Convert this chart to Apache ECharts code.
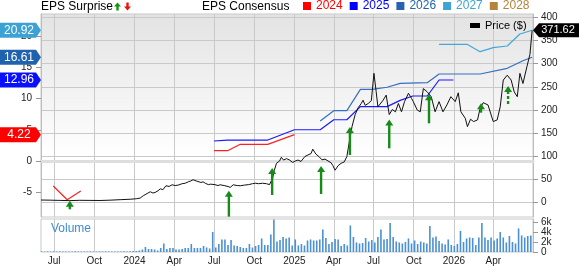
<!DOCTYPE html>
<html><head><meta charset="utf-8">
<script src="https://cdn.jsdelivr.net/npm/echarts@6/dist/echarts.min.js"></script>
<style>html,body{margin:0;padding:0;background:#fff}#c{width:579px;height:266px}</style>
</head><body><div id="c"></div>
<script>
// ---------- DATA ----------
const tickDates = ['2023-07-01','2023-10-01','2024-01-01','2024-04-01','2024-07-01','2024-10-01','2025-01-01','2025-04-01','2025-07-01','2025-10-01','2026-01-01','2026-04-01','2026-07-01'];
const tickLabels = ['Jul','Oct','2024','Apr','Jul','Oct','2025','Apr','Jul','Oct','2026','Apr',''];
const priceTicks = [0,50,100,150,200,250,300,350,400];
const epsTicks = [-5,0,5,10,15,20];
const volTicks = [0,2,4,6];
const volTickLabels = ['0','2k','4k','6k'];

const priceDates = ['2023-06-01','2023-06-22','2023-07-14','2023-08-06','2023-08-29','2023-09-21','2023-10-14','2023-11-06','2023-11-29','2023-12-22','2024-01-05','2024-01-14','2024-01-21','2024-01-25','2024-02-01','2024-02-06','2024-02-12','2024-02-17','2024-02-24','2024-02-29','2024-03-06','2024-03-13','2024-03-20','2024-03-27','2024-04-03','2024-04-10','2024-04-19','2024-04-26','2024-05-03','2024-05-09','2024-05-14','2024-05-21','2024-05-25','2024-06-01','2024-06-06','2024-06-11','2024-06-18','2024-06-23','2024-06-27','2024-07-03','2024-07-10','2024-07-15','2024-07-24','2024-08-02','2024-08-07','2024-08-14','2024-08-23','2024-08-30','2024-09-09','2024-09-18','2024-09-27','2024-10-04','2024-10-11','2024-10-20','2024-10-29','2024-11-05','2024-11-12','2024-11-16','2024-11-21','2024-11-28','2024-12-02','2024-12-07','2024-12-14','2024-12-21','2024-12-28','2025-01-03','2025-01-09','2025-01-16','2025-01-25','2025-02-01','2025-02-08','2025-02-12','2025-02-19','2025-02-26','2025-03-05','2025-03-12','2025-03-19','2025-03-26','2025-03-30','2025-04-04','2025-04-11','2025-04-18','2025-04-25','2025-05-01','2025-05-06','2025-05-13','2025-05-20','2025-05-27','2025-06-03','2025-06-07','2025-06-12','2025-06-19','2025-06-26','2025-07-02','2025-07-07','2025-07-11','2025-07-18','2025-07-23','2025-07-30','2025-08-06','2025-08-13','2025-08-20','2025-08-27','2025-09-03','2025-09-10','2025-09-19','2025-09-26','2025-09-30','2025-10-09','2025-10-16','2025-10-23','2025-11-01','2025-11-10','2025-11-19','2025-11-28','2025-12-07','2025-12-16','2025-12-25','2026-01-04','2026-01-11','2026-01-17','2026-01-27','2026-02-01','2026-02-08','2026-02-15','2026-02-24','2026-03-02','2026-03-09','2026-03-20','2026-04-01','2026-04-10','2026-04-17','2026-04-24','2026-05-03','2026-05-12','2026-05-19','2026-05-26','2026-06-01','2026-06-08','2026-06-17','2026-06-24','2026-06-29'];
const priceValues = [5.8,5.5,5.0,4.5,5.2,5.0,4.8,5.5,6.5,7.5,8.5,10,15,19,21,23.6,21,22,26,30,28,36.6,35,38.7,37,38,41,42,45,47,49.5,47,49,43.7,45,42,39,40,36.6,39,37,38.7,37,35,33,38.7,37,36.6,38,39,41,42,41,42,41,39,53,70,85,90,98,92,95,92,86.7,90,92,89,99.6,103,106,115.5,105,99.6,92.5,94,90,86,80,70,80,85,88,99.6,128,165,190,205,214,221,210,214,220,279,240,207,215,221,232,190,201,196,214,196,218,236,225,218,200,196,246,239,228.6,196,218,196,210.8,228.6,218,237,196,182,164,180,175,178.5,203.6,215.7,210.8,175,178.5,207,264.5,275,264.5,239,228.6,279,257,293,320,371.62];

const eps2024Dates = ['2023-06-29','2023-07-31','2023-08-31',null,'2024-07-01','2024-08-01','2024-08-30','2024-11-01','2025-01-01'];
const eps2024Values = [-4.0,-6.2,-4.8,null,1.65,1.65,2.67,2.67,4.22];
const eps2025Dates = ['2024-07-01','2024-08-01','2024-11-01','2025-01-01','2025-03-01','2025-04-01','2025-05-01','2025-06-01','2025-08-01','2025-08-31','2025-09-29','2025-11-01','2025-11-28','2025-12-31'];
const eps2025Values = [3.2,3.35,3.35,5.0,5.0,6.6,6.6,8.7,8.7,9.7,10.4,10.4,12.96,12.96];
const eps2026Dates = ['2025-03-01','2025-04-01','2025-05-01','2025-06-01','2025-06-28','2025-08-01','2025-08-31','2025-11-01','2025-11-28','2026-03-02','2026-05-03','2026-06-08','2026-06-29'];
const eps2026Values = [6.4,8.05,8.05,11.47,11.47,11.8,12.43,12.53,13.92,13.92,14.83,16.05,16.61];
const eps2027Dates = ['2025-11-28','2026-01-31','2026-03-02','2026-04-01','2026-05-03','2026-06-01','2026-06-29'];
const eps2027Values = [18.67,18.67,17.49,18.13,18.4,20.32,20.92];
const eps2028Dates = [];
const eps2028Values = [];

// EPS surprise arrows: date, tip price, tail price, dashed(1)
const surpriseDates = ['2023-08-06','2024-08-04','2024-11-11','2025-03-03','2025-05-08','2025-08-06','2025-11-05','2026-03-04','2026-05-05'];
const surpriseTips = [4.3,25.9,74.8,79.1,163.2,179.4,233.7,214.3,251.6];
const surpriseTails = [-14.2,-30,16.6,18.8,102.8,117.3,171.2,194.1,212.2];
const surpriseDashed = [0,0,0,0,0,0,0,0,1];

const volumeStart = '2023-06-02';
const volumeValues = [0.12,0.1,0.12,0.1,0.13,0.1,0.12,0.1,0.1,0.12,0.1,0.13,0.1,0.12,0.1,0.1,0.12,0.1,0.1,0.12,0.1,0.12,0.1,0.1,0.12,0.1,0.12,0.15,0.12,0.15,0.2,0.2,
0.3,0.5,1.0,0.6,0.6,0.5,0.3,0.8,1.7,0.6,0.8,0.8,0.5,0.5,0.6,0.8,0.8,1.6,0.8,0.8,0.8,1.2,0.9,0.7,4.0,0.9,1.6,2.5,2.5,1.4,2.4,1.3,1.2,1.0,0.8,0.8,1.6,0.9,1.2,1.4,2.7,1.4,1.4,3.5,6.5,2.1,2.4,3.0,2.7,2.9,1.3,2.5,1.3,1.6,1.3,2.3,2.5,2.3,2.3,2.5,4.5,2.8,1.6,2.0,2.6,2.5,1.2,1.6,1.3,5.3,3.0,1.9,1.7,1.8,2.8,2.1,2.4,1.9,3.0,4.5,2.5,2.6,5.8,3.0,2.1,1.9,1.7,2.0,2.7,1.7,2.3,1.6,2.1,1.9,1.7,5.2,2.9,3.1,2.2,1.7,1.5,2.5,1.4,1.2,1.6,4.2,2.0,2.7,2.9,2.8,1.4,2.9,5.8,2.9,2.4,2.9,2.3,2.7,4.0,2.9,1.9,3.2,2.0,1.7,4.7,3.3,2.9,3.2,3.3];

const epsTagValues = [20.92,16.61,12.96,4.22];
const epsTagColors = ['#3aa2d4','#1f62ad','#0a10ff','#ff0000'];
const lastPrice = 371.62;

// ---------- BUILD ----------
const FONT = '"Liberation Sans", Arial, sans-serif';
function ts(s){const p=s.split('-');return new Date(+p[0],+p[1]-1,+p[2]).getTime();}
function pairs(ds,vs){return ds.map((d,i)=>d===null?[null,null]:[ts(d),vs[i]]);}
const tickTs = tickDates.map(ts);
const volumeData = volumeValues.map((v,i)=>{const d=new Date(ts(volumeStart));d.setDate(d.getDate()+7*i);return [d.getTime(),v];});
const surpriseData = surpriseDates.map((d,i)=>[ts(d),surpriseTips[i],surpriseTails[i],surpriseDashed[i]]);

const GRID_LINE = '#c9c9c9';
const xMin = ts('2023-06-01'), xMax = ts('2026-07-01');

const chart = echarts.init(document.getElementById('c'), null, {renderer:'canvas'});
const option = {
  animation:false,
  textStyle:{fontFamily:FONT},
  grid:[
    {left:41,right:46,top:14,height:203,show:true,borderColor:GRID_LINE,borderWidth:1,
      backgroundColor:new echarts.graphic.LinearGradient(0,0,0,1,[{offset:0,color:'#e3e3e3'},{offset:0.7,color:'#ffffff'},{offset:1,color:'#ffffff'}])},
    {left:41,right:46,top:219,height:34,show:true,borderColor:GRID_LINE,borderWidth:1,backgroundColor:'#fff'}
  ],
  legend:[
    {data:[{name:'2024',textStyle:{color:'#ff0000'}},{name:'2025',textStyle:{color:'#0000ff'}},{name:'2026',textStyle:{color:'#2563b0'}},{name:'2027',textStyle:{color:'#3ea4d6'}},{name:'2028',textStyle:{color:'#b5843c'}}],
     left:303,top:0,itemWidth:8,itemHeight:8,itemGap:7,icon:'rect',selectedMode:false,
     textStyle:{fontSize:12,fontFamily:FONT},padding:0},
    {data:['Price ($)'],left:470,top:20,itemWidth:10,itemHeight:5,icon:'rect',selectedMode:false,padding:0,
     textStyle:{fontSize:11,color:'#000',fontFamily:FONT}}
  ],
  xAxis:[
    {type:'value',gridIndex:0,min:xMin,max:xMax,scale:true,
      axisLine:{show:true,lineStyle:{color:'#dedede',width:3}},axisTick:{show:false,customValues:tickTs},
      axisLabel:{show:false,customValues:tickTs},
      splitLine:{show:true,lineStyle:{color:GRID_LINE,width:1}}},
    {type:'value',gridIndex:1,min:xMin,max:xMax,scale:true,
      axisLine:{show:false},axisTick:{show:false,customValues:tickTs},
      axisLabel:{show:true,customValues:tickTs,margin:4,fontSize:10,color:'#222',fontFamily:FONT,
        formatter:(v)=>{const i=tickTs.indexOf(v);return i>=0?tickLabels[i]:'';}},
      splitLine:{show:true,lineStyle:{color:GRID_LINE,width:1}}}
  ],
  yAxis:[
    {type:'value',gridIndex:0,position:'left',min:-8.96,max:23.52,
      axisLine:{show:true,lineStyle:{color:'#bdbdbd'}},
      axisTick:{show:true,length:5,customValues:epsTicks,lineStyle:{color:'#999'}},
      axisLabel:{customValues:epsTicks,margin:9,fontSize:10,color:'#222',fontFamily:FONT},
      splitLine:{show:false}},
    {type:'value',gridIndex:0,position:'right',min:-30.8,max:406.9,
      axisLine:{show:true,lineStyle:{color:'#bdbdbd'}},
      axisTick:{show:true,length:5,customValues:priceTicks,lineStyle:{color:'#999'}},
      axisLabel:{customValues:priceTicks,margin:8,fontSize:10,color:'#222',fontFamily:FONT},
      splitLine:{show:true,lineStyle:{color:GRID_LINE,width:1}}},
    {type:'value',gridIndex:1,position:'right',min:0,max:6.58,
      axisLine:{show:true,lineStyle:{color:'#bdbdbd'}},
      axisTick:{show:true,length:5,customValues:volTicks,lineStyle:{color:'#999'}},
      axisLabel:{customValues:volTicks,margin:8,fontSize:10,color:'#222',fontFamily:FONT,
        formatter:(v)=>{const i=volTicks.indexOf(v);return i>=0?volTickLabels[i]:'';}},
      splitLine:{show:false}}
  ],
  series:[
    {name:'2024',type:'line',xAxisIndex:0,yAxisIndex:0,data:pairs(eps2024Dates,eps2024Values),symbol:'none',connectNulls:false,lineStyle:{color:'#ff2020',width:1.2},itemStyle:{color:'#ff0000'},z:3},
    {name:'2025',type:'line',xAxisIndex:0,yAxisIndex:0,data:pairs(eps2025Dates,eps2025Values),symbol:'none',lineStyle:{color:'#1a1aff',width:1.2},itemStyle:{color:'#0000ff'},z:3},
    {name:'2026',type:'line',xAxisIndex:0,yAxisIndex:0,data:pairs(eps2026Dates,eps2026Values),symbol:'none',lineStyle:{color:'#3570c0',width:1.2},itemStyle:{color:'#2563b0'},z:3},
    {name:'2027',type:'line',xAxisIndex:0,yAxisIndex:0,data:pairs(eps2027Dates,eps2027Values),symbol:'none',lineStyle:{color:'#45a6d8',width:1.2},itemStyle:{color:'#3ea4d6'},z:3},
    {name:'2028',type:'line',xAxisIndex:0,yAxisIndex:0,data:pairs(eps2028Dates,eps2028Values),symbol:'none',lineStyle:{color:'#b5843c',width:1.2},itemStyle:{color:'#b5843c'},z:3},
    {name:'Price ($)',type:'line',xAxisIndex:0,yAxisIndex:1,data:pairs(priceDates,priceValues),symbol:'none',lineStyle:{color:'#111',width:1},itemStyle:{color:'#000'},z:4},
    {name:'surprise',type:'custom',xAxisIndex:0,yAxisIndex:1,data:surpriseData,clip:true,z:5,
      encode:{x:0,y:[1,2]},
      renderItem:(params,api)=>{
        const x=api.value(0),tip=api.value(1),tail=api.value(2),dashed=api.value(3);
        const p1=api.coord([x,tip]),p2=api.coord([x,tail]);
        const hw=4,hh=6,c='#178a17';
        return {type:'group',children:[
          {type:'line',shape:{x1:p1[0],y1:p1[1]+hh-1,x2:p2[0],y2:p2[1]},style:{stroke:c,lineWidth:2.4,lineDash:dashed?[3,2]:null}},
          {type:'polygon',shape:{points:[[p1[0],p1[1]],[p1[0]-hw,p1[1]+hh],[p1[0]+hw,p1[1]+hh]]},style:{fill:c}}
        ]};
      }},
    {name:'Volume',type:'bar',xAxisIndex:1,yAxisIndex:2,data:volumeData,barWidth:1.6,itemStyle:{color:'#4a90d2'},z:2}
  ]
};
chart.setOption(option);

// Tags positioned through the axes' own scales
const g = [];
g.push({type:'text',left:41,top:1,z:100,style:{text:'EPS Surprise',font:'12px '+FONT,fill:'#000'}});
g.push({type:'polygon',z:100,shape:{points:[[117.5,2.5],[114,6.5],[116.3,6.5],[116.3,10.5],[118.7,10.5],[118.7,6.5],[121,6.5]]},style:{fill:'#149414'}});
g.push({type:'polygon',z:100,shape:{points:[[127.5,10.5],[124,6.5],[126.3,6.5],[126.3,2.5],[128.7,2.5],[128.7,6.5],[131,6.5]]},style:{fill:'#ee1111'}});
g.push({type:'text',left:202,top:1,z:100,style:{text:'EPS Consensus',font:'12px '+FONT,fill:'#000'}});
g.push({type:'text',left:51,top:223,z:100,style:{text:'Volume',font:'12px '+FONT,fill:'#3d8bd0'}});
epsTagValues.forEach((v,i)=>{
  const y = chart.convertToPixel({yAxisIndex:0}, v);
  g.push({type:'polygon',z:100,shape:{points:[[0,y-7.5],[36,y-7.5],[41,y],[36,y+7.5],[0,y+7.5]]},style:{fill:epsTagColors[i]}});
  g.push({type:'text',z:101,x:19,y:y,style:{text:v.toFixed(2),font:'12px '+FONT,fill:'#fff',align:'center',verticalAlign:'middle'}});
});
{
  const y = chart.convertToPixel({yAxisIndex:1}, lastPrice);
  g.push({type:'polygon',z:100,shape:{points:[[533,y],[539,y-7],[579,y-7],[579,y+7],[539,y+7]]},style:{fill:'#000'}});
  g.push({type:'text',z:101,x:558,y:y,style:{text:lastPrice.toFixed(2),font:'11px '+FONT,fill:'#fff',align:'center',verticalAlign:'middle'}});
}
chart.setOption({graphic:g});
</script></body></html>
